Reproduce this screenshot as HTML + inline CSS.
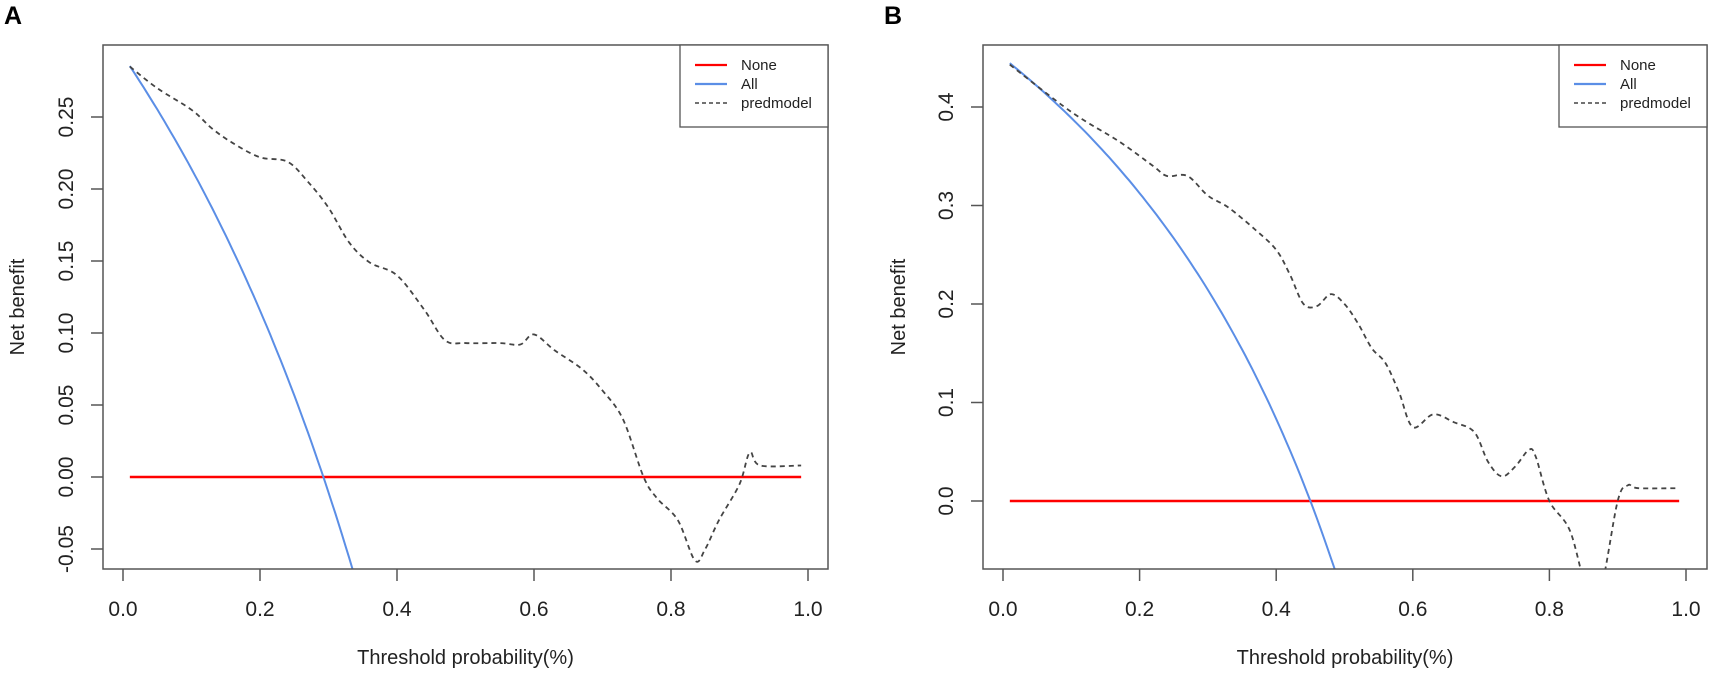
<!DOCTYPE html>
<html><head><meta charset="utf-8"><style>
html,body{margin:0;padding:0;background:#fff;width:1713px;height:676px;overflow:hidden;}
svg{display:block;font-family:"Liberation Sans",Arial,sans-serif;}
</style></head><body>
<svg id="s" width="1713" height="676" viewBox="0 0 1713 676" xmlns="http://www.w3.org/2000/svg"></svg>
<script>
const S=document.getElementById('s');let h='';
function panel(o){
 const {L,R,T,B,x0,x1,y0v,y0p,ypx,yv,yt,letter,lx,prev,pts,ylabx,ylabcx}=o;
 const X=t=>x0+(x1-x0)*t, Y=v=>y0p-(v-y0v)*ypx/yv;
 const id='c'+letter;
 h+=`<clipPath id="${id}"><rect x="${L}" y="${T}" width="${R-L}" height="${B-T}"/></clipPath>`;
 h+=`<text x="${lx}" y="24" font-size="25" font-weight="bold">${letter}</text>`;
 for(let i=0;i<=5;i++){const x=X(i*0.2);h+=`<line x1="${x}" y1="${B}" x2="${x}" y2="${B+12}" stroke="#555" stroke-width="1.5"/>`;
  h+=`<text x="${x}" y="616" font-size="21" text-anchor="middle" fill="#222">${(i*0.2).toFixed(1)}</text>`;}
 yt.forEach(v=>{const y=Y(v);h+=`<line x1="${L-12}" y1="${y}" x2="${L}" y2="${y}" stroke="#555" stroke-width="1.5"/>`;
  h+=`<text transform="translate(${ylabcx},${y}) rotate(-90)" y="7" font-size="21" text-anchor="middle" fill="#222">${v.toFixed(letter=='A'?2:1)}</text>`;});
 h+=`<text x="${(L+R)/2}" y="664" font-size="20" text-anchor="middle" fill="#222">Threshold probability(%)</text>`;
 h+=`<text transform="translate(${ylabx},${(T+B)/2}) rotate(-90)" font-size="20" text-anchor="middle" fill="#222">Net benefit</text>`;
 h+=`<g clip-path="url(#${id})">`;
 h+=`<line x1="${X(0.01)}" y1="${Y(0)}" x2="${X(0.99)}" y2="${Y(0)}" stroke="#f00" stroke-width="2.5"/>`;
 let d='';for(let t=0.01;t<=0.99;t+=0.005){const v=prev-(1-prev)*t/(1-t);d+=(d?'L':'M')+X(t).toFixed(1)+','+Y(Math.max(v,-1)).toFixed(1);}
 h+=`<path d="${d}" fill="none" stroke="#5b8ee6" stroke-width="2"/>`;
 const P=pts.map(p=>[X(p[0]),Y(p[1])]);let e='M'+P[0].join(',');
 for(let i=0;i<P.length-1;i++){const p0=P[Math.max(i-1,0)],p1=P[i],p2=P[i+1],p3=P[Math.min(i+2,P.length-1)];
  e+=`C${p1[0]+(p2[0]-p0[0])/6},${p1[1]+(p2[1]-p0[1])/6} ${p2[0]-(p3[0]-p1[0])/6},${p2[1]-(p3[1]-p1[1])/6} ${p2[0]},${p2[1]}`;}
 h+=`<path d="${e}" fill="none" stroke="#444" stroke-width="1.8" stroke-dasharray="5,4"/>`;
 h+=`</g>`;
 h+=`<rect x="${L}" y="${T}" width="${R-L}" height="${B-T}" fill="none" stroke="#555" stroke-width="1.5"/>`;
 const lgL=R-148;
 h+=`<rect x="${lgL}" y="${T}" width="148" height="82" fill="#fff" stroke="#555" stroke-width="1.3"/>`;
 const rows=[['None','#f00',''],['All','#5b8ee6',''],['predmodel','#444','4,3']];
 rows.forEach((r,i)=>{const y=T+20+i*19;
  h+=`<line x1="${lgL+15}" y1="${y}" x2="${lgL+47}" y2="${y}" stroke="${r[1]}" stroke-width="${i==2?1.5:2.2}" ${r[2]?'stroke-dasharray="'+r[2]+'"':''}/>`;
  h+=`<text x="${lgL+61}" y="${y+5}" font-size="15" fill="#222">${r[0]}</text>`;});
}
panel({L:103,R:828,T:45,B:569,x0:123,x1:808,y0v:0,y0p:477,ypx:72,yv:0.05,yt:[-0.05,0,0.05,0.1,0.15,0.2,0.25],letter:'A',lx:4,prev:0.2925,ylabx:24,ylabcx:66,
 pts:[[0.01,0.285],[0.05,0.27],[0.1,0.255],[0.13,0.242],[0.16,0.232],[0.2,0.222],[0.24,0.219],[0.27,0.205],[0.3,0.187],[0.33,0.163],[0.36,0.149],[0.4,0.14],[0.44,0.116],[0.47,0.095],[0.5,0.093],[0.55,0.093],[0.58,0.092],[0.6,0.099],[0.63,0.088],[0.67,0.075],[0.7,0.06],[0.73,0.04],[0.76,0.0],[0.78,-0.015],[0.81,-0.03],[0.835,-0.058],[0.85,-0.05],[0.87,-0.03],[0.9,-0.005],[0.915,0.017],[0.93,0.008],[0.99,0.008]]});
panel({L:983,R:1707,T:45,B:569,x0:1003,x1:1686,y0v:0,y0p:501,ypx:98.5,yv:0.1,yt:[0,0.1,0.2,0.3,0.4],letter:'B',lx:884,prev:0.45,ylabx:905,ylabcx:946,
 pts:[[0.01,0.443],[0.1,0.395],[0.17,0.365],[0.22,0.34],[0.24,0.33],[0.27,0.33],[0.3,0.31],[0.33,0.298],[0.37,0.275],[0.4,0.255],[0.42,0.23],[0.44,0.2],[0.46,0.198],[0.48,0.21],[0.5,0.2],[0.52,0.18],[0.54,0.155],[0.56,0.14],[0.58,0.11],[0.6,0.075],[0.63,0.088],[0.66,0.08],[0.69,0.07],[0.71,0.04],[0.73,0.025],[0.75,0.035],[0.77,0.052],[0.78,0.045],[0.8,0.0],[0.83,-0.03],[0.855,-0.09],[0.875,-0.09],[0.9,0.0],[0.915,0.016],[0.93,0.013],[0.99,0.013]]});
S.innerHTML=h;
</script>
</body></html>
